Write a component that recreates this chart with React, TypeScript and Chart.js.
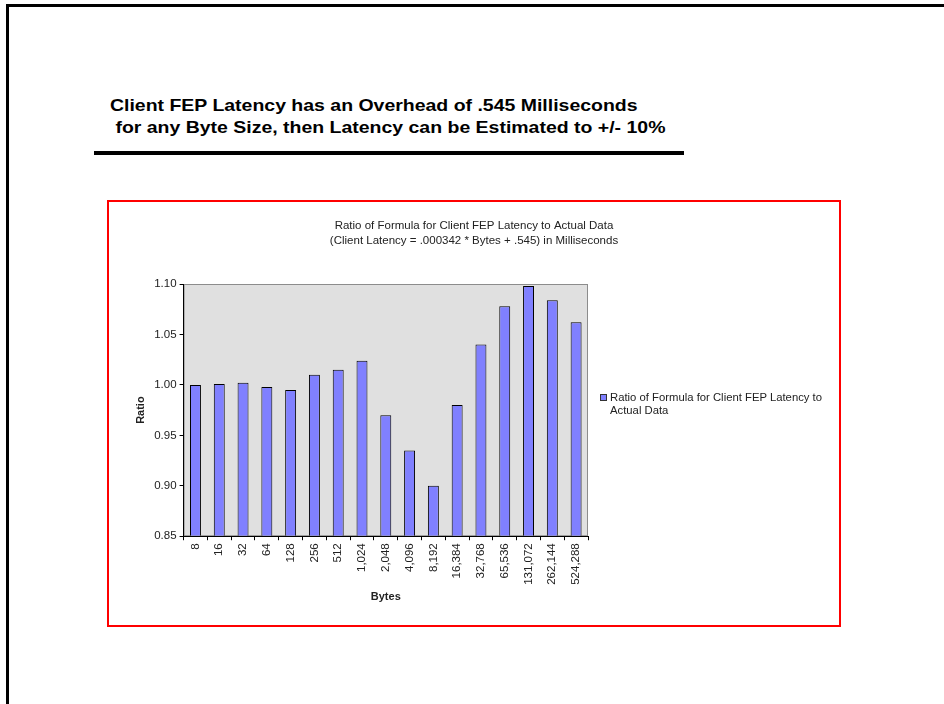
import React, { useEffect, useRef } from "react";
import { Chart, registerables } from "chart.js";

Chart.register(...registerables);

const categories = ["8", "16", "32", "64", "128", "256", "512", "1,024", "2,048", "4,096", "8,192", "16,384", "32,768", "65,536", "131,072", "262,144", "524,288"];
const ratioValues = [1.0, 1.001, 1.002, 0.998, 0.995, 1.01, 1.015, 1.024, 0.97, 0.935, 0.9, 0.98, 1.04, 1.078, 1.098, 1.084, 1.062];
const yTicks = [0.85, 0.9, 0.95, 1.0, 1.05, 1.1];
const seriesLabel = "Ratio of Formula for Client FEP Latency to Actual Data";
const legendLines = ["Ratio of Formula for Client FEP Latency to", "Actual Data"];
const chartTitle = ["Ratio of Formula for Client FEP Latency to Actual Data", "(Client Latency = .000342 * Bytes + .545) in Milliseconds"];
const headingLines = ["Client FEP Latency has an Overhead of .545 Milliseconds", "\u00a0for any Byte Size, then Latency can be Estimated to +/- 10%"];
const xAxisTitle = "Bytes";
const yAxisTitle = "Ratio";

const FONT = "'Liberation Sans', Arial, sans-serif";
const TEXT = "#222";

const plotBg = {
  id: "plotBg",
  beforeDraw(chart: any) {
    const { ctx, chartArea: a } = chart;
    ctx.save();
    ctx.fillStyle = "#e0e0e0";
    ctx.fillRect(a.left, a.top, a.right - a.left, a.bottom - a.top);
    ctx.strokeStyle = "#8c8c8c";
    ctx.lineWidth = 1;
    ctx.strokeRect(a.left + 0.5, a.top + 0.5, a.right - a.left - 1, a.bottom - a.top - 1);
    ctx.restore();
  },
};

// Chart title centred over the whole chart box (not only the plot + padding)
const boxTitle = {
  id: "boxTitle",
  afterDraw(chart: any) {
    const { ctx } = chart;
    ctx.save();
    ctx.fillStyle = TEXT;
    ctx.font = `11.5px ${FONT}`;
    ctx.textAlign = "center";
    ctx.textBaseline = "middle";
    chartTitle.forEach((line, i) => {
      ctx.fillText(line, chart.width / 2, 23 + i * 15);
    });
    ctx.restore();
  },
};

function BarChart() {
  const ref = useRef<HTMLCanvasElement | null>(null);
  useEffect(() => {
    if (!ref.current) return;
    const chart = new Chart(ref.current, {
      type: "bar",
      data: {
        labels: categories,
        datasets: [
          {
            label: seriesLabel,
            data: ratioValues,
            backgroundColor: "#8080ff",
            borderColor: "#000",
            borderWidth: 1,
            base: 0.85,
            barPercentage: 0.46,
            categoryPercentage: 1,
          } as any,
        ],
      },
      options: {
        responsive: false,
        animation: false,
        layout: { padding: { left: 20, right: 250, top: 81, bottom: 18 } },
        plugins: {
          legend: { display: false },
          tooltip: { enabled: false },
          title: { display: false },
        },
        scales: {
          x: {
            offset: true,
            grid: { display: true, drawOnChartArea: false, drawTicks: true, tickLength: 4, color: "#000", offset: true },
            border: { display: true, color: "#000", width: 1 },
            ticks: { color: TEXT, font: { family: FONT, size: 11.5 }, minRotation: 90, maxRotation: 90, autoSkip: false, padding: 3 },
            title: { display: true, text: xAxisTitle, color: TEXT, font: { family: FONT, size: 11, weight: "bold" }, padding: { top: 3, bottom: 2 } },
          },
          y: {
            min: 0.85,
            max: 1.1,
            afterBuildTicks: (scale: any) => {
              scale.ticks = yTicks.map((v) => ({ value: v }));
            },
            grid: { display: true, drawOnChartArea: false, drawTicks: true, tickLength: 4, color: "#000" },
            border: { display: true, color: "#000", width: 1 },
            ticks: { color: TEXT, font: { family: FONT, size: 11.5 }, padding: 3, callback: (v: any) => Number(v).toFixed(2) },
            title: { display: true, text: yAxisTitle, color: TEXT, font: { family: FONT, size: 11, weight: "bold" }, padding: { top: 4, bottom: 4 } },
          },
        },
      },
      plugins: [plotBg, boxTitle],
    });
    return () => chart.destroy();
  }, []);
  return <canvas ref={ref} width={728} height={421} style={{ position: "absolute", left: 110, top: 203, width: 728, height: 421 }} />;
}

export default function App() {
  return (
    <div style={{ position: "absolute", left: 0, top: 0, width: 944, height: 704, overflow: "hidden", background: "#fff" }}>
      <div style={{ position: "absolute", left: 6, top: 4, width: 1200, height: 1200, borderTop: "3px solid #000", borderLeft: "3px solid #000" }} />
      <div style={{ position: "absolute", left: 110, top: 95, fontFamily: FONT, fontWeight: "bold", fontSize: 17, lineHeight: "22px", color: "#000", whiteSpace: "pre", transform: "scaleX(1.145)", transformOrigin: "0 0" }}>
        {headingLines.map((l, i) => (
          <div key={i}>{l}</div>
        ))}
      </div>
      <div style={{ position: "absolute", left: 94, top: 151, width: 590, height: 4, background: "#000" }} />
      <div style={{ position: "absolute", left: 107, top: 200, width: 730, height: 423, border: "2px solid #ff0000" }} />
      <BarChart />
      <div style={{ position: "absolute", left: 600, top: 391, fontFamily: FONT, fontSize: 11.3, lineHeight: "13px", color: TEXT, whiteSpace: "pre" }}>
        <div>
          <span style={{ display: "inline-block", width: 5, height: 5, border: "1px solid #333", background: "#8080ff", marginRight: 3, verticalAlign: "middle", position: "relative", top: -1 }} />
          {legendLines[0]}
        </div>
        <div style={{ paddingLeft: 10 }}>{legendLines[1]}</div>
      </div>
    </div>
  );
}
